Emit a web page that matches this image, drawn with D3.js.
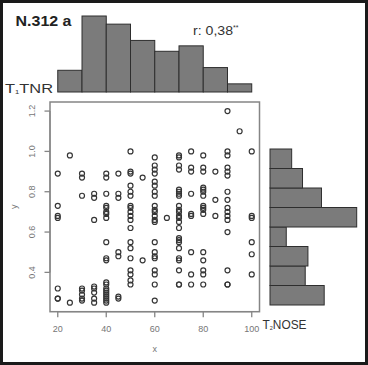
<!DOCTYPE html>
<html>
<head>
<meta charset="utf-8">
<script src="https://cdn.jsdelivr.net/npm/d3@7"></script>
<style>
  body { margin: 0; background: #fff; }
  svg { display: block; font-family: "Liberation Sans", Arial, sans-serif; }
  .tick-lab { fill: #767676; font-size: 9px; }
</style>
</head>
<body>
<svg id="chart" width="368" height="365"></svg>
<script>
// values
var xTicks = [20, 40, 60, 80, 100];
var yTicks = [0.4, 0.6, 0.8, 1.0, 1.2];

// top histogram (x)
var xBreaks = [20, 30, 40, 50, 60, 70, 80, 90, 100];
var xCounts = [8, 28, 25, 19, 15, 17, 9, 3];

// right histogram (y), bottom to top
var yBreaks = [0.2, 0.3, 0.4, 0.5, 0.6, 0.7, 0.8, 0.9, 1.0, 1.1, 1.2];
var yCounts = [20, 13, 14, 6, 32, 19, 12, 8, 0, 0];

// scatter, one column per x value
var colX = [20, 25, 30, 35, 40, 45, 50, 55, 60, 65, 70, 75, 80, 85, 90, 95, 100];
var colY = [
    [0.89, 0.73, 0.68, 0.67, 0.32, 0.27, 0.27],
    [0.98, 0.25],
    [0.89, 0.87, 0.78, 0.32, 0.31, 0.29, 0.27, 0.26],
    [0.79, 0.77, 0.66, 0.33, 0.32, 0.30, 0.27, 0.25],
    [0.89, 0.87, 0.79, 0.73, 0.72, 0.70, 0.69, 0.67, 0.55, 0.47, 0.46, 0.35, 0.34, 0.32, 0.31, 0.30, 0.29, 0.28, 0.27, 0.26, 0.25],
    [0.89, 0.79, 0.77, 0.50, 0.48, 0.28, 0.27],
    [1.00, 0.90, 0.89, 0.83, 0.80, 0.78, 0.73, 0.72, 0.70, 0.68, 0.66, 0.62, 0.55, 0.52, 0.47, 0.41, 0.39, 0.36, 0.34],
    [0.87, 0.46],
    [0.97, 0.93, 0.91, 0.89, 0.85, 0.83, 0.80, 0.78, 0.73, 0.71, 0.70, 0.68, 0.66, 0.65, 0.55, 0.50, 0.48, 0.47, 0.41, 0.39, 0.34, 0.26],
    [0.67],
    [0.98, 0.97, 0.93, 0.91, 0.81, 0.80, 0.79, 0.78, 0.73, 0.71, 0.70, 0.68, 0.67, 0.65, 0.62, 0.57, 0.56, 0.55, 0.52, 0.47, 0.46, 0.41, 0.34, 0.34],
    [1.00, 0.92, 0.90, 0.79, 0.69, 0.68, 0.50, 0.39, 0.34],
    [0.98, 0.92, 0.90, 0.82, 0.81, 0.80, 0.78, 0.73, 0.72, 0.71, 0.69, 0.50, 0.46, 0.41, 0.39, 0.34],
    [0.90, 0.76, 0.68],
    [1.20, 1.00, 0.98, 0.92, 0.90, 0.88, 0.80, 0.76, 0.72, 0.70, 0.68, 0.66, 0.60, 0.41, 0.34, 0.34],
    [1.10],
    [1.00, 0.68, 0.67, 0.55, 0.49, 0.39]
];

var svg = d3.select("#chart");
var box = {l: 50, r: 259.5, t: 102, b: 311.7};

var x = d3.scaleLinear().domain([16.8, 103.2]).range([box.l, box.r]);
var y = d3.scaleLinear().domain([0.205, 1.245]).range([box.b, box.t]);

// outer frame
svg.append("rect").attr("x", 1.5).attr("y", 1.5).attr("width", 365).attr("height", 362)
    .attr("fill", "#fff").attr("stroke", "#1a1a1a").attr("stroke-width", 3);

// scatter box
svg.append("rect").attr("x", box.l).attr("y", box.t)
    .attr("width", box.r - box.l).attr("height", box.b - box.t)
    .attr("fill", "none").attr("stroke", "#858585").attr("stroke-width", 1.5);

// x axis
var gx = svg.append("g").attr("transform", "translate(0," + box.b + ")");
gx.append("line").attr("x1", x(20)).attr("x2", x(100))
    .attr("stroke", "#858585").attr("stroke-width", 1.2);
gx.selectAll(".tk").data(xTicks).join("line")
    .attr("x1", d => x(d)).attr("x2", d => x(d)).attr("y1", 0).attr("y2", 5.5)
    .attr("stroke", "#858585").attr("stroke-width", 1.3);
gx.selectAll("text").data(xTicks).join("text")
    .attr("class", "tick-lab")
    .attr("x", d => x(d)).attr("y", 20)
    .attr("text-anchor", "middle")
    .text(d => d);

// y axis
var gy = svg.append("g").attr("transform", "translate(" + box.l + ",0)");
gy.append("line").attr("y1", y(0.4)).attr("y2", y(1.2))
    .attr("stroke", "#858585").attr("stroke-width", 1.2);
gy.selectAll(".tk").data(yTicks).join("line")
    .attr("y1", d => y(d)).attr("y2", d => y(d)).attr("x1", 0).attr("x2", -5.5)
    .attr("stroke", "#858585").attr("stroke-width", 1.3);
gy.selectAll("text").data(yTicks).join("text")
    .attr("class", "tick-lab")
    .attr("transform", d => "translate(-15," + y(d) + ") rotate(-90)")
    .attr("text-anchor", "middle")
    .text(d => d.toFixed(1));

svg.append("text").attr("class", "tick-lab")
    .attr("x", (box.l + box.r) / 2).attr("y", 352)
    .attr("text-anchor", "middle").text("x");
svg.append("text").attr("class", "tick-lab")
    .attr("transform", "translate(17," + (box.t + box.b) / 2 + ") rotate(-90)")
    .attr("text-anchor", "middle").text("y");

// points
var pts = [];
colX.forEach(function(xv, i) {
    colY[i].forEach(function(yv) { pts.push({x: xv, y: yv}); });
});
svg.append("g").selectAll("circle").data(pts).join("circle")
    .attr("cx", d => x(d.x)).attr("cy", d => y(d.y)).attr("r", 2.5)
    .attr("fill", "none").attr("stroke", "#353535").attr("stroke-width", 1.2);

// top histogram
var hTop = d3.scaleLinear().domain([0, 28]).range([92, 16]);
svg.append("g").selectAll("rect").data(xCounts).join("rect")
    .attr("x", (d, i) => x(xBreaks[i]))
    .attr("width", (d, i) => x(xBreaks[i + 1]) - x(xBreaks[i]))
    .attr("y", d => hTop(d))
    .attr("height", d => hTop(0) - hTop(d))
    .attr("fill", "#7b7b7b").attr("stroke", "#2e2e2e").attr("stroke-width", 1);

// right histogram
var yR = d3.scaleLinear().domain([0.2, 1.2]).range([305, 110]);
var wR = d3.scaleLinear().domain([0, 32]).range([270, 356.7]);
svg.append("g").selectAll("rect").data(yCounts).join("rect")
    .attr("x", wR(0))
    .attr("y", (d, i) => yR(yBreaks[i + 1]))
    .attr("width", d => wR(d) - wR(0))
    .attr("height", (d, i) => yR(yBreaks[i]) - yR(yBreaks[i + 1]))
    .attr("fill", "#7b7b7b").attr("stroke", "#2e2e2e").attr("stroke-width", 1);

// labels
svg.append("text").attr("x", 15.5).attr("y", 25.5)
    .attr("font-size", 15).attr("font-weight", "bold").attr("fill", "#222")
    .attr("textLength", 56).attr("lengthAdjust", "spacingAndGlyphs")
    .text("N.312 a");

var r = svg.append("text").attr("x", 193).attr("y", 35)
    .attr("font-size", 13.5).attr("fill", "#333");
r.append("tspan").attr("textLength", 40).attr("lengthAdjust", "spacingAndGlyphs").text("r: 0,38");
r.append("tspan").attr("font-size", 7).attr("dy", -5).text("**");

var t1 = svg.append("text").attr("x", 5).attr("y", 92.5)
    .attr("font-size", 13).attr("fill", "#333")
    .attr("textLength", 48).attr("lengthAdjust", "spacingAndGlyphs");
t1.append("tspan").text("T");
t1.append("tspan").attr("font-size", 6).attr("dy", 1).text("1");
t1.append("tspan").attr("dy", -1).text("TNR");

var t2 = svg.append("text").attr("x", 262.5).attr("y", 328.5)
    .attr("font-size", 13).attr("fill", "#333")
    .attr("textLength", 44).attr("lengthAdjust", "spacingAndGlyphs");
t2.append("tspan").text("T");
t2.append("tspan").attr("font-size", 6).attr("dy", 1).text("2");
t2.append("tspan").attr("dy", -1).text("NOSE");
</script>
</body>
</html>
